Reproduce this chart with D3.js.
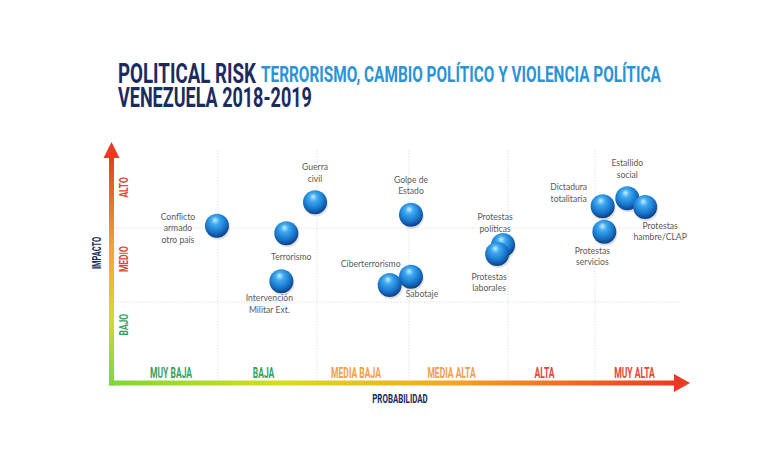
<!DOCTYPE html>
<html>
<head>
<meta charset="utf-8">
<script src="https://cdn.jsdelivr.net/npm/d3@7"></script>
<style>
  body { margin: 0; background: #fff; }
  svg { display: block; }
</style>
</head>
<body>
<svg id="chart" width="770" height="454"></svg>
<script>
// categorias de los ejes
const probLevels = ["MUY BAJA", "BAJA", "MEDIA BAJA", "MEDIA ALTA", "ALTA", "MUY ALTA"];
const probColors = ["#3a9f5c", "#3a9f5c", "#f0a042", "#f0a042", "#e5433a", "#e5433a"];
const impactLevels = ["BAJO", "MEDIO", "ALTO"];
const impactColors = ["#3a9f5c", "#e5433a", "#e5433a"];

// riesgos (probabilidad 0-6, impacto 0-3), en orden de dibujo
const risks = ["Conflicto|armado|otro país", "Guerra|civil", "Terrorismo", "Intervención|Militar Ext.",
               "Sabotaje", "Ciberterrorismo", "Golpe de|Estado", "Protestas|políticas", "Protestas|laborales",
               "Estallido|social", "Protestas|servicios", "Dictadura|totalitaria", "Protestas|hambre/CLAP"];
const probability = [0.99, 1.98, 1.69, 1.64, 3.02, 2.79, 3.02, 3.95, 3.89, 5.38, 5.11, 5.09, 5.59];
const impact      = [2.03, 2.33, 1.93, 1.28, 1.34, 1.23, 2.17, 1.77, 1.65, 2.38, 1.95, 2.28, 2.27];

// ubicacion de cada etiqueta respecto a su burbuja [dx, dy]
const labelOffsets = [[-39, -6], [0, -32], [5, 27], [-12, 20], [11, 20], [-19, -18], [0, -32],
                      [-8, -25], [-8, 26], [0, -32], [-12, 22], [-34, -16], [15, 22]];
// ajuste horizontal de las etiquetas de probabilidad y vertical de las de impacto
const probShift = [6, -4, -7, -7, -7, -3];
const impactAt = [0.72, 1.58, 2.52];

const svg = d3.select("#chart");
const defs = svg.append("defs");

const x = d3.scaleLinear().domain([0, 1, 2, 3, 4, 5, 6]).range([112, 218, 317, 409, 508, 595, 680]);
const y = d3.scaleLinear().domain([0, 1, 2, 3]).range([383, 302, 228, 150]);

// texto condensado con transform (no hay fuentes condensadas)
// k < 1: factor de compresion; k > 1: ancho final en px
function condensed(parent, txt, px, py, k, rot) {
    const t = parent.append("text").attr("x", 0).attr("y", 0).text(txt);
    const w = t.node().getComputedTextLength();
    const s = k > 1 ? k / w : k;
    t.attr("transform", `translate(${px},${py})` + (rot ? ` rotate(${rot})` : "") + ` scale(${s},1)`);
    return t;
}

// titulo
const title = svg.append("g").style("font-family", "Roboto").style("font-weight", "bold");
condensed(title.append("g").style("font-size", "28px").style("fill", "#1c2b5e"),
    "POLITICAL RISK", 118, 83, 138);
condensed(title.append("g").style("font-size", "22px").style("fill", "#2b93d8"),
    "TERRORISMO, CAMBIO POLÍTICO Y VIOLENCIA POLÍTICA", 261, 82, 400);
condensed(title.append("g").style("font-size", "27px").style("fill", "#1c2b5e"),
    "VENEZUELA 2018-2019", 118, 107, 194);

// cuadricula
const grid = svg.append("g").style("stroke", "#d9d9d9").style("stroke-width", 0.8).style("stroke-dasharray", "1.5,1.5");
grid.selectAll(".vx").data(d3.range(1, 6)).enter().append("line")
    .attr("x1", d => x(d)).attr("x2", d => x(d)).attr("y1", y(3)).attr("y2", y(0));
grid.selectAll(".hy").data([1, 2]).enter().append("line")
    .attr("x1", x(0)).attr("x2", x(6)).attr("y1", d => y(d)).attr("y2", d => y(d));

// ejes con degradado
const gx = defs.append("linearGradient").attr("id", "gx").attr("x1", "0%").attr("x2", "100%").attr("y1", "0%").attr("y2", "0%");
const gy = defs.append("linearGradient").attr("id", "gy").attr("x1", "0%").attr("x2", "0%").attr("y1", "100%").attr("y2", "0%");
const stops = [[0, "#7ed63a"], [0.3, "#d6dc22"], [0.6, "#f5a524"], [1, "#ea3a22"]];
[gx, gy].forEach(g => stops.forEach(s => g.append("stop").attr("offset", s[0]).attr("stop-color", s[1])));

svg.append("rect").attr("x", x(0) - 3).attr("y", y(0) - 2.5).attr("width", 676 - x(0) + 3).attr("height", 5)
    .style("fill", "url(#gx)");
svg.append("path").attr("d", `M674,${y(0) - 9} L690,${y(0)} L674,${y(0) + 9} Z`).style("fill", "#ea3a22");
svg.append("rect").attr("x", x(0) - 3).attr("y", 156).attr("width", 5).attr("height", y(0) + 2.5 - 156)
    .style("fill", "url(#gy)");
svg.append("path").attr("d", `M${x(0) - 8.5},158 L${x(0) - 0.5},142 L${x(0) + 7.5},158 Z`).style("fill", "#ea3a22");

// etiquetas de los ejes
const axisG = svg.append("g").style("font-family", "Roboto").style("font-weight", "bold")
    .attr("text-anchor", "middle");
probLevels.forEach((d, i) => {
    condensed(axisG.append("g").style("font-size", "15px").style("fill", probColors[i]),
        d, x(i + 0.5) + probShift[i], 378, 0.57);
});
impactLevels.forEach((d, i) => {
    condensed(axisG.append("g").style("font-size", "12.5px").style("fill", impactColors[i]),
        d, 128, y(impactAt[i]), 0.68, -90);
});
const navy = axisG.append("g").style("font-size", "12px").style("fill", "#1c2b5e");
condensed(navy, "PROBABILIDAD", 400, 403, 0.66);
condensed(navy, "IMPACTO", 101, 253, 0.62, -90);

// burbujas
const ball = defs.append("radialGradient").attr("id", "ball").attr("cx", "45%").attr("cy", "38%").attr("r", "62%")
    .attr("fx", "42%").attr("fy", "26%");
ball.append("stop").attr("offset", "0%").attr("stop-color", "#c8eeff");
ball.append("stop").attr("offset", "28%").attr("stop-color", "#3eaaf2");
ball.append("stop").attr("offset", "72%").attr("stop-color", "#1672c8");
ball.append("stop").attr("offset", "100%").attr("stop-color", "#0b3f86");

const rows = risks.map((d, i) => ({name: d, p: probability[i], imp: impact[i], off: labelOffsets[i]}));
const r = 12;

svg.append("g").selectAll("circle").data(rows).enter().append("circle")
    .attr("cx", d => x(d.p) + 1).attr("cy", d => y(d.imp) + 2).attr("r", r)
    .style("fill", "#000").style("opacity", 0.12);
svg.append("g").selectAll("circle").data(rows).enter().append("circle")
    .attr("cx", d => x(d.p)).attr("cy", d => y(d.imp)).attr("r", r)
    .style("fill", "url(#ball)");

// etiquetas de las burbujas
const lab = svg.append("g").style("font-family", "Lato").style("font-size", "8.6px").style("fill", "#5a5a5a");
rows.forEach(d => {
    const t = lab.append("text").attr("text-anchor", "middle");
    d.name.split("|").forEach((line, j) => {
        t.append("tspan").attr("x", x(d.p) + d.off[0]).attr("y", y(d.imp) + d.off[1] + j * 11.5).text(line);
    });
});
</script>
</body>
</html>
